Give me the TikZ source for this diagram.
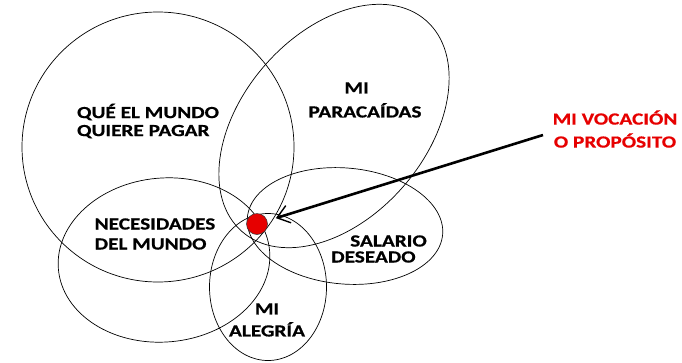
\documentclass[tikz,border=0pt]{standalone}
\usepackage{fontspec}
\setmainfont{Carlito}[FakeStretch=1.25,BoldFeatures={FakeBold=0.6}]
\usetikzlibrary{shapes.geometric,arrows.meta}
\definecolor{rojo}{RGB}{230,0,0}

\begin{document}
\begin{tikzpicture}[x=1pt,y=-1pt,
  zona/.style={ellipse,draw,line width=0.7pt,inner sep=0pt},
  rotulo/.style={font=\fontsize{17}{18}\selectfont\bfseries,inner sep=0pt},
  punto/.style={circle,fill=rojo,draw=black!80,line width=0.5pt,minimum size=21pt,inner sep=0pt},
  flecha/.style={-{Straight Barb[length=12pt,width=18pt,line width=1.4pt]},line width=2.6pt,shorten >=9pt}]
  			\useasboundingbox (0,0) rectangle (682,362);
  			% los cinco circulos
  			\node[zona,minimum width=272pt,minimum height=270pt] (pagar) at (158,147) {};
  			\node[zona,minimum width=280pt,minimum height=184pt,rotate=49] (paracaidas) at (334,126) {};
  			\node[zona,minimum width=212pt,minimum height=164pt,rotate=5] (necesidades) at (164,260) {};
  			\node[zona,minimum width=196pt,minimum height=116pt,rotate=-5] (salario) at (345,226) {};
  			\node[zona,minimum width=117pt,minimum height=147pt] (alegria) at (268,287) {};
  			% textos
  			\node[rotulo,align=left] (tpagar) at (148,121) {QUÉ EL MUNDO\\QUIERE PAGAR};
  			\node[rotulo,align=left] (tparacaidas) at (365,100) {\hspace*{36pt}MI\\[6pt]PARACAÍDAS};
  			\node[rotulo,align=left] (tnecesidades) at (155,234) {NECESIDADES\\[2pt]DEL MUNDO};
  			\node[rotulo,align=left] (tsalario) at (379,249) {\hspace*{19pt}SALARIO\\[-2pt]DESEADO};
  			\node[rotulo,align=center] (talegria) at (267,320) {MI\\[4pt]ALEGRÍA};
  			\node[rotulo,align=center,text=rojo] (vocacion) at (615,129) {MI VOCACIÓN\\[5pt]O PROPÓSITO};
  			% el punto de encuentro
  			\node[punto] (centro) at (257,224) {};
  			\coordinate (inicio) at (543,135);
  			\draw[flecha] (inicio) -- (centro);
\end{tikzpicture}
\end{document}
